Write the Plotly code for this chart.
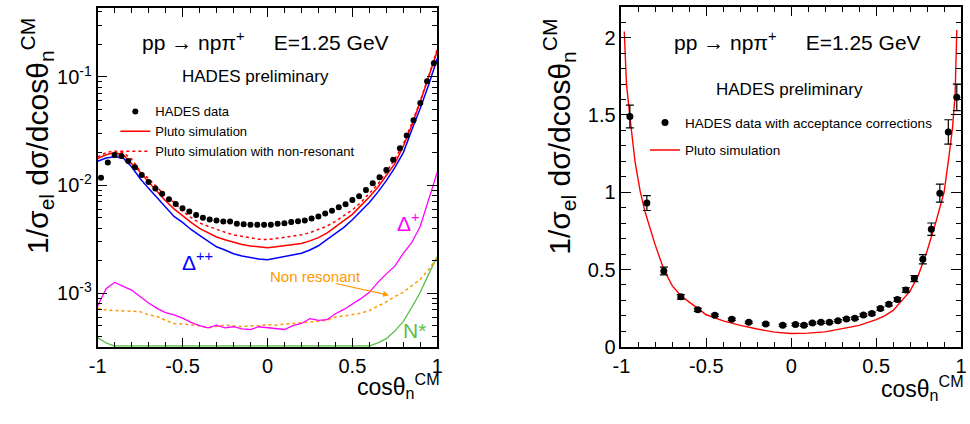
import plotly.graph_objects as go

W, H = 970, 424
FONT = "Liberation Sans, Arial, Helvetica, sans-serif"

# ---------------- data: left panel (log scale) ----------------
cos_left = [-0.98, -0.94, -0.90, -0.86, -0.82, -0.78, -0.74, -0.70, -0.66, -0.62,
            -0.58, -0.54, -0.50, -0.46, -0.42, -0.38, -0.34, -0.30, -0.26, -0.22,
            -0.18, -0.14, -0.10, -0.06, -0.02, 0.02, 0.06, 0.10, 0.14, 0.18,
            0.22, 0.26, 0.30, 0.34, 0.38, 0.42, 0.46, 0.50, 0.54, 0.58,
            0.62, 0.66, 0.70, 0.74, 0.78, 0.82, 0.86, 0.90, 0.94, 0.98]
hades_left = [0.0117, 0.0162, 0.0190, 0.0186, 0.0167, 0.0146, 0.0124, 0.0107, 0.0093, 0.0083,
              0.0074, 0.0067, 0.0061, 0.0057, 0.0053, 0.0050, 0.0048, 0.0047, 0.0046, 0.0046,
              0.0044, 0.00435, 0.0043, 0.0043, 0.0043, 0.0043, 0.0044, 0.00443, 0.00456, 0.00463,
              0.0047, 0.0049, 0.00513, 0.00546, 0.0058, 0.00624, 0.00665, 0.0073, 0.0079, 0.0090,
              0.0104, 0.0118, 0.0138, 0.0172, 0.0219, 0.0287, 0.0398, 0.0574, 0.0914, 0.134]
hades_left_err = [0.0004, 0.0005, 0.0006, 0.0006, 0.0005, 0.0004, 0.0004, 0.0003, 0.0003, 0.0003,
                  0.00025, 0.0002, 0.0002, 0.0002, 0.0002, 0.0002, 0.00018, 0.00018, 0.00018, 0.00018,
                  0.00017, 0.00017, 0.00017, 0.00017, 0.00017, 0.00017, 0.00017, 0.00017, 0.00018, 0.00018,
                  0.00018, 0.00019, 0.0002, 0.0002, 0.00022, 0.00024, 0.00025, 0.00028, 0.0003, 0.00035,
                  0.0004, 0.00045, 0.0005, 0.0006, 0.0008, 0.001, 0.0014, 0.002, 0.0035, 0.006]

cos_grid = [-1.00, -0.95, -0.90, -0.85, -0.80, -0.75, -0.70, -0.65, -0.60, -0.55,
            -0.50, -0.45, -0.40, -0.35, -0.30, -0.25, -0.20, -0.15, -0.10, -0.05,
            0.00, 0.05, 0.10, 0.15, 0.20, 0.25, 0.30, 0.35, 0.40, 0.45,
            0.50, 0.55, 0.60, 0.65, 0.70, 0.75, 0.80, 0.85, 0.90, 0.95, 1.00]
pluto = [0.0176, 0.0191, 0.0200, 0.0191, 0.0158, 0.0132, 0.0107, 0.00871, 0.00716, 0.00603,
         0.00519, 0.00452, 0.00398, 0.00363, 0.00331, 0.00313, 0.00296, 0.00282, 0.00274, 0.00268,
         0.00264, 0.00269, 0.00275, 0.00282, 0.00288, 0.00305, 0.00327, 0.00359, 0.00412, 0.00468,
         0.00537, 0.00646, 0.00776, 0.00955, 0.0123, 0.0158, 0.0229, 0.0355, 0.0589, 0.100, 0.174]
pluto_nonres = [0.0182, 0.0200, 0.0207, 0.0200, 0.0174, 0.0135, 0.0115, 0.00955, 0.00794, 0.00692,
                0.00575, 0.00501, 0.00447, 0.00417, 0.00389, 0.00367, 0.00347, 0.00335, 0.00324, 0.00316,
                0.00313, 0.00320, 0.00327, 0.00339, 0.00347, 0.00363, 0.00389, 0.00417, 0.00462, 0.00519,
                0.00589, 0.00692, 0.00832, 0.0102, 0.0132, 0.0174, 0.0240, 0.0372, 0.0603, 0.102, 0.182]
delta_pp = [0.0166, 0.0178, 0.0183, 0.0178, 0.0148, 0.0115, 0.00933, 0.00759, 0.00617, 0.00513,
            0.00452, 0.00389, 0.00343, 0.00302, 0.00269, 0.00251, 0.00232, 0.00221, 0.00214, 0.00207,
            0.00204, 0.00211, 0.00219, 0.00226, 0.00234, 0.00251, 0.00275, 0.00313, 0.00359, 0.00407,
            0.00479, 0.00575, 0.00692, 0.00861, 0.0110, 0.0145, 0.0200, 0.0324, 0.0513, 0.0851, 0.148]
delta_p = [0.000759, 0.00110, 0.00126, 0.00117, 0.00107, 0.000933, 0.000813, 0.000724, 0.000661, 0.000631,
           0.000589, 0.000537, 0.000501, 0.000479, 0.000507, 0.000479, 0.000490, 0.000468, 0.000462, 0.000490,
           0.000479, 0.000468, 0.000462, 0.000501, 0.000525, 0.000582, 0.000562, 0.000569, 0.000646, 0.000708,
           0.000794, 0.000891, 0.00102, 0.00126, 0.00151, 0.00178, 0.00234, 0.00295, 0.00417, 0.00759, 0.0132]
non_res = [0.000724, 0.000700, 0.000692, 0.000684, 0.000684, 0.000676, 0.000631, 0.000610, 0.000562, 0.000525,
           0.000519, 0.000513, 0.000501, 0.000479, 0.000490, 0.000507, 0.000501, 0.000490, 0.000501, 0.000501,
           0.000513, 0.000507, 0.000519, 0.000525, 0.000537, 0.000537, 0.000550, 0.000562, 0.000603, 0.000617,
           0.000631, 0.000653, 0.000692, 0.000759, 0.000832, 0.000933, 0.00102, 0.00117, 0.00135, 0.00166, 0.00214]
n_star = [0.000389, 0.000347, 0.000325, 0.000325, 0.000325, 0.000325, 0.000325, 0.000325, 0.000325, 0.000325,
          0.000325, 0.000325, 0.000325, 0.000325, 0.000325, 0.000325, 0.000325, 0.000325, 0.000325, 0.000325,
          0.000325, 0.000325, 0.000325, 0.000325, 0.000325, 0.000325, 0.000325, 0.000325, 0.000325, 0.000325,
          0.000325, 0.000325, 0.000325, 0.000347, 0.000380, 0.000447, 0.000550, 0.000741, 0.00102, 0.00151, 0.00219]

# ---------------- data: right panel (linear scale) ----------------
cos_right = [-0.95, -0.85, -0.75, -0.65, -0.55, -0.45, -0.35, -0.25, -0.15, -0.05,
             0.025, 0.075, 0.125, 0.175, 0.225, 0.275, 0.325, 0.375, 0.425, 0.475,
             0.525, 0.575, 0.625, 0.675, 0.725, 0.775, 0.825, 0.875, 0.925, 0.975]
hades_right = [1.49, 0.93, 0.49, 0.323, 0.239, 0.204, 0.178, 0.158, 0.147, 0.139,
               0.144, 0.139, 0.153, 0.158, 0.158, 0.168, 0.180, 0.185, 0.205, 0.215,
               0.247, 0.275, 0.306, 0.367, 0.441, 0.566, 0.761, 0.994, 1.39, 1.614]
hades_right_err = [0.074, 0.048, 0.025, 0.015, 0.010, 0.008, 0.007, 0.007, 0.007, 0.007,
                   0.007, 0.007, 0.007, 0.007, 0.007, 0.007, 0.008, 0.008, 0.008, 0.009,
                   0.010, 0.010, 0.012, 0.015, 0.020, 0.030, 0.040, 0.058, 0.079, 0.086]
cos_pluto_right = [-0.983, -0.97, -0.95, -0.92, -0.89, -0.86, -0.80, -0.75, -0.70, -0.65, -0.60,
                   -0.50, -0.40, -0.30, -0.20, -0.10, 0.00, 0.10, 0.20, 0.30, 0.40, 0.50,
                   0.55, 0.60, 0.65, 0.70, 0.75, 0.80, 0.85, 0.90, 0.93, 0.95, 0.965, 0.975]
pluto_right = [2.04, 1.70, 1.49, 1.20, 1.01, 0.87, 0.656, 0.50, 0.394, 0.33, 0.289,
               0.207, 0.168, 0.138, 0.115, 0.095, 0.086, 0.088, 0.096, 0.115, 0.138, 0.175,
               0.200, 0.235, 0.300, 0.360, 0.467, 0.620, 0.800, 1.000, 1.240, 1.420, 1.630, 2.050]

# ---------------- tick labels ----------------
x_tickvals = [-1, -0.5, 0, 0.5, 1]
x_ticktext = ["-1", "-0.5", "0", "0.5", "1"]
ylog_tickvals = [1e-3, 1e-2, 1e-1]
ylog_ticktext = ["10<sup>-3</sup>", "10<sup>-2</sup>", "10<sup>-1</sup>"]
ylog_minor = [4e-4, 5e-4, 6e-4, 7e-4, 8e-4, 9e-4,
              2e-3, 3e-3, 4e-3, 5e-3, 6e-3, 7e-3, 8e-3, 9e-3,
              2e-2, 3e-2, 4e-2, 5e-2, 6e-2, 7e-2, 8e-2, 9e-2,
              2e-1, 3e-1, 4e-1]
ylin_tickvals = [0, 0.5, 1, 1.5, 2]
ylin_ticktext = ["0", "0.5", "1", "1.5", "2"]

RED = "#ff0000"
BLUE = "#0000ff"
MAGENTA = "#ff00ff"
ORANGE = "#ff9900"
GREEN = "#5cbf4a"


def X(px):
    return px / W


def Y(py):
    return 1 - py / H


fig = go.Figure()

# left panel curves
fig.add_trace(go.Scatter(x=cos_grid, y=n_star, mode="lines", line=dict(color=GREEN, width=1.3),
                         showlegend=False, xaxis="x", yaxis="y"))
fig.add_trace(go.Scatter(x=cos_grid, y=non_res, mode="lines", line=dict(color=ORANGE, width=1.5, dash="dot"),
                         showlegend=False, xaxis="x", yaxis="y"))
fig.add_trace(go.Scatter(x=cos_grid, y=delta_p, mode="lines", line=dict(color=MAGENTA, width=1.3),
                         showlegend=False, xaxis="x", yaxis="y"))
fig.add_trace(go.Scatter(x=cos_grid, y=delta_pp, mode="lines", line=dict(color=BLUE, width=1.5),
                         showlegend=False, xaxis="x", yaxis="y"))
fig.add_trace(go.Scatter(x=cos_grid, y=pluto, mode="lines", line=dict(color=RED, width=1.5),
                         name="Pluto simulation", legend="legend", legendrank=2, xaxis="x", yaxis="y"))
fig.add_trace(go.Scatter(x=cos_grid, y=pluto_nonres, mode="lines", line=dict(color=RED, width=1.5, dash="dot"),
                         name="Pluto simulation with non-resonant", legend="legend", legendrank=3,
                         xaxis="x", yaxis="y"))
fig.add_trace(go.Scatter(x=cos_left, y=hades_left, mode="markers",
                         marker=dict(color="black", size=6),
                         error_y=dict(type="data", array=hades_left_err, color="black", thickness=1, width=2),
                         name="HADES data", legend="legend", legendrank=1, xaxis="x", yaxis="y"))

# right panel
fig.add_trace(go.Scatter(x=cos_pluto_right, y=pluto_right, mode="lines", line=dict(color=RED, width=1.4),
                         name="Pluto simulation", legend="legend2", legendgroup="b", legendrank=2,
                         xaxis="x2", yaxis="y2"))
fig.add_trace(go.Scatter(x=cos_right, y=hades_right, mode="markers",
                         marker=dict(color="black", size=7),
                         error_y=dict(type="data", array=hades_right_err, color="black", thickness=1.2, width=4),
                         name="HADES data with acceptance corrections", legend="legend2", legendgroup="a",
                         legendrank=1, xaxis="x2", yaxis="y2"))

axis_common = dict(showline=True, linecolor="black", linewidth=1.6, mirror="ticks",
                   ticks="inside", tickcolor="black", tickwidth=1, showgrid=False, zeroline=False,
                   ticklabeloverflow="allow",
                   tickfont=dict(family=FONT, size=20, color="black"))

fig.update_layout(
    width=W, height=H,
    margin=dict(l=0, r=0, t=0, b=0),
    paper_bgcolor="white", plot_bgcolor="white",
    font=dict(family=FONT, color="black"),
    xaxis=dict(domain=[X(90), X(435)], range=[-1, 1], anchor="y",
               tickmode="array", tickvals=x_tickvals, ticktext=x_ticktext, ticklen=9,
               minor=dict(ticks="inside", dtick=0.1, ticklen=5, tickcolor="black", showgrid=False),
               **axis_common),
    yaxis=dict(domain=[Y(356), Y(8)], type="log", range=[-3.495, -0.36], anchor="x",
               tickmode="array", tickvals=ylog_tickvals, ticktext=ylog_ticktext, ticklen=10,
               minor=dict(ticks="inside", tickmode="array", tickvals=ylog_minor, ticklen=5,
                          tickcolor="black", showgrid=False),
               **axis_common),
    xaxis2=dict(domain=[X(622), X(967)], range=[-1, 1], anchor="y2",
                tickmode="array", tickvals=x_tickvals, ticktext=x_ticktext, ticklen=9,
                minor=dict(ticks="inside", dtick=0.1, ticklen=5, tickcolor="black", showgrid=False),
                **axis_common),
    yaxis2=dict(domain=[Y(356), Y(7)], range=[0, 2.2], anchor="x2",
                tickmode="array", tickvals=ylin_tickvals, ticktext=ylin_ticktext, ticklen=10,
                minor=dict(ticks="inside", dtick=0.1, ticklen=5, tickcolor="black", showgrid=False),
                **axis_common),
    legend=dict(x=X(108), y=Y(99), xanchor="left", yanchor="top", bgcolor="rgba(0,0,0,0)",
                font=dict(family=FONT, size=13, color="black"), itemwidth=30, traceorder="normal"),
    legend2=dict(x=X(646), y=Y(110), xanchor="left", yanchor="top", bgcolor="rgba(0,0,0,0)",
                 font=dict(family=FONT, size=13.5, color="black"), itemwidth=30,
                 traceorder="grouped", tracegroupgap=7),
)

NB = "\u00a0"
annos = [
    # left panel texts
    dict(x=X(261), y=Y(42), text="pp → npπ<sup>+</sup>" + NB * 5 + "E=1.25 GeV", font=dict(size=21)),
    dict(x=X(250), y=Y(79), text="HADES preliminary", font=dict(size=17)),
    dict(x=X(191), y=Y(268), text="Δ<sup>++</sup>", font=dict(size=21, color=BLUE)),
    dict(x=X(406), y=Y(228), text="Δ<sup>+</sup>", font=dict(size=21, color=MAGENTA)),
    dict(x=X(311), y=Y(284), text="Non resonant", font=dict(size=15, color=ORANGE)),
    dict(x=X(412), y=Y(339), text="N*", font=dict(size=21, color=GREEN)),
    # right panel texts
    dict(x=X(801), y=Y(42), text="pp → npπ<sup>+</sup>" + NB * 5 + "E=1.25 GeV", font=dict(size=21)),
    dict(x=X(793), y=Y(92), text="HADES preliminary", font=dict(size=17)),
    # axis titles
    dict(x=X(29), y=Y(140), text="1/σ<sub>el</sub> dσ/dcosθ<sub>n</sub><sup>CM</sup>",
         textangle=-90, font=dict(size=30)),
    dict(x=X(559), y=Y(140), text="1/σ<sub>el</sub> dσ/dcosθ<sub>n</sub><sup>CM</sup>",
         textangle=-90, font=dict(size=30)),
    dict(x=X(440), y=Y(396), xanchor="right", text="cosθ<sub>n</sub><sup>CM</sup>", font=dict(size=23)),
    dict(x=X(972), y=Y(398), xanchor="right", text="cosθ<sub>n</sub><sup>CM</sup>", font=dict(size=23)),
]
for a in annos:
    a.setdefault("xref", "paper")
    a.setdefault("yref", "paper")
    a.setdefault("xanchor", "center")
    a.setdefault("yanchor", "middle")
    a.setdefault("showarrow", False)
    a["font"].setdefault("family", FONT)
    a["font"].setdefault("color", "black")
    fig.add_annotation(**a)

# arrow for "Non resonant"
fig.add_annotation(x=X(386), y=Y(303), xref="paper", yref="paper", text="", showarrow=True,
                   ax=-55, ay=-12, arrowcolor=ORANGE, arrowwidth=1.2, arrowhead=2, arrowsize=1)

fig.write_html("out.html",
               config={"displayModeBar": False},
               post_script="document.body.style.margin='0px';document.body.style.overflow='hidden';")
